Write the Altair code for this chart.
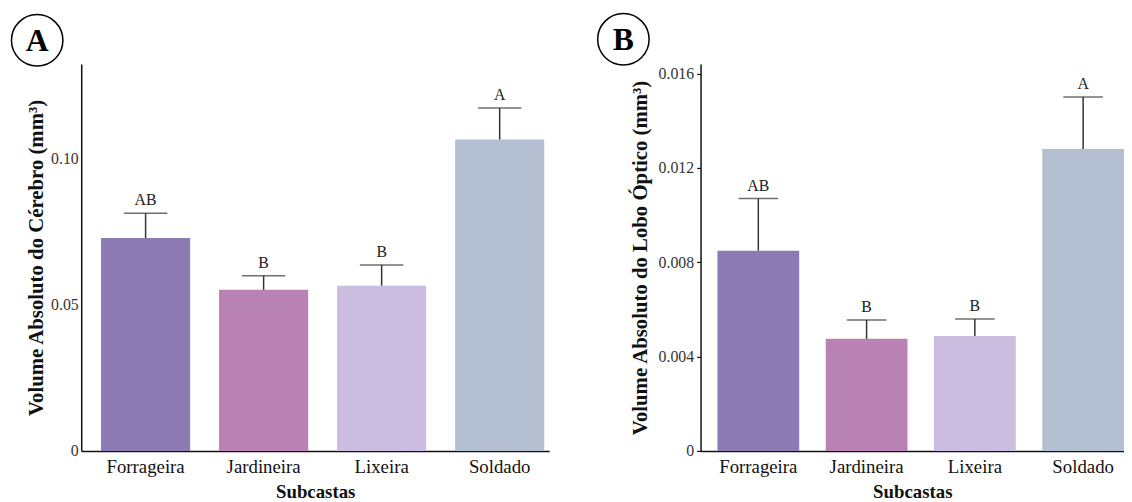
import altair as alt
import pandas as pd

subcastas = ["Forrageira", "Jardineira", "Lixeira", "Soldado"]
cores = ["#8c7ab5", "#b882b5", "#cbbddf", "#b4c0d1"]

cerebro_media = [0.0728, 0.0551, 0.0565, 0.1065]
cerebro_topo = [0.0813, 0.0599, 0.0636, 0.1173]
cerebro_letras = ["AB", "B", "B", "A"]

lobo_media = [0.00849, 0.00475, 0.00487, 0.0128]
lobo_topo = [0.0107, 0.00555, 0.00559, 0.0150]
lobo_letras = ["AB", "B", "B", "A"]

FONT = "Liberation Serif"


def painel(media, topo, letras, painel_letra, ytitle, ydomain, yticks, yfmt,
           width, height, pad_outer, align, tick_size, ytick, ytitle_pad,
           cap, circ_x, circ_y):
    df = pd.DataFrame({"sub": subcastas, "media": media, "topo": topo, "letra": letras})
    x = alt.X("sub:N", sort=subcastas,
              scale=alt.Scale(paddingInner=0.245, paddingOuter=pad_outer, align=align),
              axis=alt.Axis(title="Subcastas", labelAngle=0, ticks=False,
                            labelFont=FONT, labelFontSize=19, labelColor="#111",
                            labelPadding=7, titleFont=FONT, titleFontSize=19,
                            titleFontWeight="bold", titleColor="#111", titlePadding=6,
                            domainColor="#111", domainWidth=1.5))
    y = alt.Y("media:Q", scale=alt.Scale(domain=ydomain, nice=False, zero=True),
              axis=alt.Axis(title=ytitle, values=yticks, grid=False,
                            labelExpr=yfmt, ticks=ytick, tickSize=tick_size,
                            tickColor="#111", tickWidth=1.2,
                            labelFont=FONT, labelFontSize=16, labelColor="#333",
                            labelPadding=3, titleFont=FONT, titleFontSize=21,
                            titleFontWeight="bold", titleColor="#111",
                            titlePadding=ytitle_pad, domainColor="#111", domainWidth=1.5))
    base = alt.Chart(df)
    barras = base.mark_bar().encode(
        x=x, y=y,
        color=alt.Color("sub:N", scale=alt.Scale(domain=subcastas, range=cores), legend=None))
    erro = base.mark_rule(color="#333", strokeWidth=1.5).encode(
        x=alt.X("sub:N", sort=subcastas), y="media:Q", y2="topo:Q")
    tampa = base.mark_tick(color="#333", thickness=1.5, size=cap).encode(
        x=alt.X("sub:N", sort=subcastas), y="topo:Q")
    texto = base.mark_text(font=FONT, fontSize=16, color="#222", baseline="bottom", dy=-5).encode(
        x=alt.X("sub:N", sort=subcastas), y="topo:Q", text="letra:N")
    ldf = pd.DataFrame({"t": [painel_letra]})
    circulo = alt.Chart(ldf).mark_point(shape="circle", size=2704, filled=False,
                                        stroke="black", strokeWidth=1.5, opacity=1).encode(
        x=alt.value(circ_x), y=alt.value(circ_y))
    letra = alt.Chart(ldf).mark_text(font=FONT, fontSize=32, fontWeight="bold",
                                     color="black", baseline="middle", dy=1).encode(
        x=alt.value(circ_x), y=alt.value(circ_y), text="t:N")
    return alt.layer(barras, erro, tampa, texto, circulo, letra).properties(
        width=width, height=height)


a = painel(cerebro_media, cerebro_topo, cerebro_letras, "A",
           "Volume Absoluto do Cérebro (mm³)", [0, 0.1323], [0, 0.05, 0.10],
           "datum.value == 0 ? '0' : format(datum.value, '.2f')",
           473, 391, 0.105, 0.8, 0, False, 4, 44, -44.5, -24)
b = painel(lobo_media, lobo_topo, lobo_letras, "B",
           "Volume Absoluto do Lobo Óptico (mm³)", [0, 0.0164],
           [0, 0.004, 0.008, 0.012, 0.016],
           "datum.value == 0 ? '0' : format(datum.value, '.3f')",
           428, 391, 0.078, 1.0, 4, True, 8, 40, -78, -25)

chart = alt.hconcat(a, b, spacing=46).properties(
    padding={"left": 0, "top": 0, "right": 0, "bottom": 0}
).configure_view(stroke=None)

chart.save("out.html", embed_options={"renderer": "svg", "actions": False})
